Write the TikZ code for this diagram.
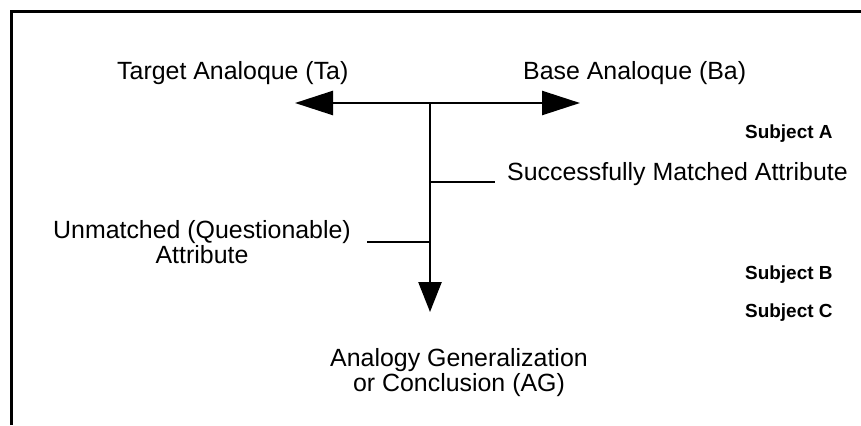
\documentclass[tikz,border=0pt]{standalone}
\usepackage{fontspec}
\setmainfont{Liberation Sans}
\usetikzlibrary{arrows.meta}
\tikzset{
    lbl/.style={font=\fontsize{25}{25}\selectfont, inner sep=0pt, anchor=base west},
    sublbl/.style={font=\bfseries\fontsize{19}{19}\selectfont, inner sep=0pt, anchor=base west},
    twolbl/.style={font=\fontsize{25}{25}\selectfont, inner sep=0pt, align=center, anchor=base},
    attrline/.style={line width=2.5bp},
    sidearr/.style={-{Triangle[length=38bp,width=24bp]}, line width=2.5bp},
    downarr/.style={-{Triangle[length=30bp,width=23bp]}, line width=2.5bp},
    frameline/.style={line width=3bp},
}
\begin{document}
\begin{tikzpicture}[x=1bp,y=-1bp]
\useasboundingbox (0,0) rectangle (861,425);
% frame
\coordinate (fbl) at (11,425);
\coordinate (ftl) at (11,11);
\coordinate (ftr) at (861,11);
\draw[frameline] (fbl) -- (ftl) -- (ftr);

% analogue axis and conclusion axis
\coordinate (hub) at (430,103);
\coordinate (tatip) at (295,103);
\coordinate (batip) at (580,103);
\coordinate (agtip) at (430,312);
\draw[sidearr] (hub) -- (tatip);
\draw[sidearr] (hub) -- (batip);
\draw[downarr] (hub) -- (agtip);

% attribute ticks
\coordinate (mL) at (430,182);
\coordinate (mR) at (495,182);
\coordinate (uL) at (367,242);
\coordinate (uR) at (430,242);
\draw[attrline] (mL) -- (mR);
\draw[attrline] (uL) -- (uR);

% labels (two-line nodes sit on their last baseline)
\node[lbl] (ta) at (117,79) {Target Analoque (Ta)};
\node[lbl] (ba) at (523,79) {Base Analoque (Ba)};
\node[lbl] (matched) at (507,180) {Successfully Matched Attribute};
\node[twolbl] (unmatched) at (202,263) {Unmatched (Questionable)\\Attribute};
\node[twolbl] (ag) at (459,391) {Analogy Generalization\\or Conclusion (AG)};
\node[sublbl] (subA) at (745,138) {Subject A};
\node[sublbl] (subB) at (745,279) {Subject B};
\node[sublbl] (subC) at (745,317) {Subject C};
\end{tikzpicture}
\end{document}
